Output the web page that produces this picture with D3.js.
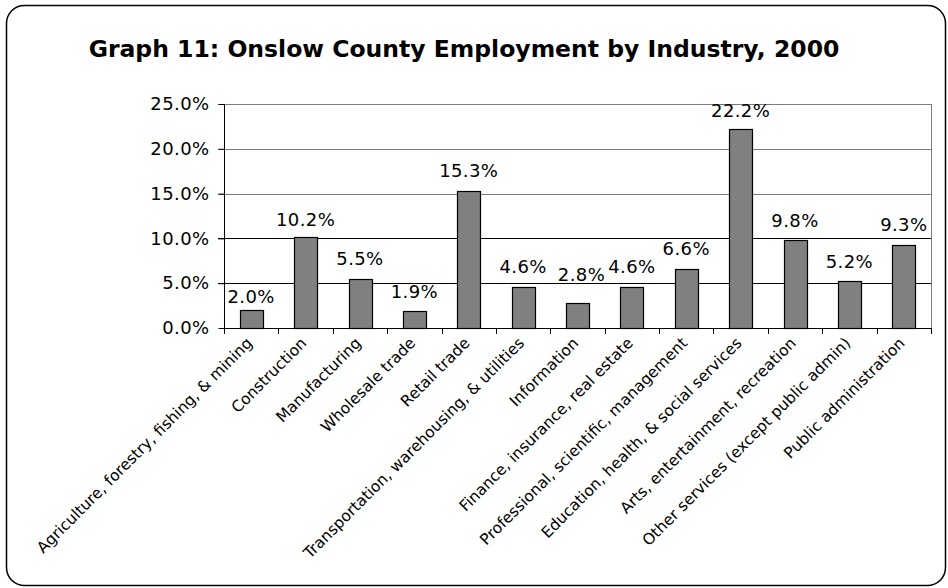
<!DOCTYPE html>
<html>
<head>
<meta charset="utf-8">
<script src="https://cdn.jsdelivr.net/npm/d3@7"></script>
<style>
  body { margin: 0; background: #fff; }
  text { font-family: "DejaVu Sans", Verdana, sans-serif; fill: #000; }
</style>
</head>
<body>
<svg id="chart" width="948" height="588"></svg>
<script>
// data
const industries = [
    "Agriculture, forestry, fishing, & mining",
    "Construction",
    "Manufacturing",
    "Wholesale trade",
    "Retail trade",
    "Transportation, warehousing, & utilities",
    "Information",
    "Finance, insurance, real estate",
    "Professional, scientific, management",
    "Education, health, & social services",
    "Arts, entertainment, recreation",
    "Other services (except public admin)",
    "Public administration"
];
const shares = [2.0, 10.2, 5.5, 1.9, 15.3, 4.6, 2.8, 4.6, 6.6, 22.2, 9.8, 5.2, 9.3];
const yTicks = [0, 5, 10, 15, 20, 25];
const title = "Graph 11: Onslow County Employment by Industry, 2000";

const svg = d3.select("#chart");
const margin = { left: 224, right: 17, top: 104, bottom: 260 };
const width = 948, height = 588;

// outer frame
svg.append("rect")
    .attr("x", 6.5).attr("y", 5.5)
    .attr("width", 939).attr("height", 580)
    .attr("rx", 18).attr("ry", 18)
    .attr("fill", "#fff")
    .attr("stroke", "#000")
    .attr("stroke-width", 1.5);

svg.append("text")
    .attr("x", 464).attr("y", 57)
    .attr("text-anchor", "middle")
    .attr("font-size", 23.5)
    .attr("font-weight", "bold")
    .text(title);

let x = d3.scaleBand()
    .domain(industries)
    .range([margin.left, width - margin.right])
    .paddingInner(0.58)
    .paddingOuter(0.29);

let y = d3.scaleLinear()
    .domain([0, 25])
    .range([height - margin.bottom, margin.top]);

// gridlines
svg.append("g")
    .selectAll("line")
    .data(yTicks.filter(d => d > 0))
    .join("line")
    .attr("x1", margin.left - 6)
    .attr("x2", width - margin.right)
    .attr("y1", d => Math.round(y(d)) + 0.5)
    .attr("y2", d => Math.round(y(d)) + 0.5)
    .attr("stroke", d => d >= 15 ? "#7a7a7a" : "#000");

// right edge of plot area
svg.append("line")
    .attr("x1", width - margin.right + 0.5).attr("x2", width - margin.right + 0.5)
    .attr("y1", y(25)).attr("y2", y(0))
    .attr("stroke", "#7a7a7a");

// bars
svg.append("g")
    .selectAll("rect")
    .data(shares)
    .join("rect")
    .attr("x", (d, i) => Math.round(x(industries[i])) + 0.5)
    .attr("y", d => Math.round(y(d)) + 0.5)
    .attr("width", Math.round(x.bandwidth()))
    .attr("height", d => Math.round(y(0)) - Math.round(y(d)))
    .attr("fill", "#808080")
    .attr("stroke", "#000")
    .attr("stroke-width", 1.2);

// value labels -- excel placed a few of them a bit off, copy that
let lift = i => ({ 0: 7, 1: 11, 3: 12.5, 6: 22, 9: 12 })[i] || 13.5;
svg.append("g")
    .selectAll("text")
    .data(shares)
    .join("text")
    .attr("x", (d, i) => x(industries[i]) + x.bandwidth() / 2 + (i === 6 ? 4 : 0))
    .attr("y", (d, i) => y(d) - lift(i))
    .attr("text-anchor", "middle")
    .attr("font-size", 18)
    .attr("letter-spacing", 0.4)
    .text(d => d.toFixed(1) + "%");

// y axis
let yAxis = d3.axisLeft(y)
    .tickValues(yTicks)
    .tickFormat(d => d.toFixed(1) + "%")
    .tickSize(6)
    .tickPadding(9);

let gy = svg.append("g")
    .attr("transform", `translate(${margin.left + 0.5},0)`)
    .call(yAxis);
gy.select(".domain").attr("stroke", "#000").attr("d", `M0,${y(25)}V${y(0) + 0.5}`);
gy.selectAll(".tick line").attr("stroke", "#000");
gy.selectAll(".tick text")
    .attr("font-size", 18)
    .attr("letter-spacing", 0.4)
    .attr("font-family", "DejaVu Sans, Verdana, sans-serif")
    .attr("fill", "#000");

// x axis: ticks at band boundaries
let boundaries = d3.range(industries.length + 1)
    .map(i => margin.left + i * (width - margin.right - margin.left) / industries.length);

let gx = svg.append("g");
gx.append("line")
    .attr("x1", margin.left).attr("x2", width - margin.right + 1)
    .attr("y1", Math.round(y(0)) + 0.5).attr("y2", Math.round(y(0)) + 0.5)
    .attr("stroke", "#000");
gx.selectAll("line.tk")
    .data(boundaries)
    .join("line")
    .attr("class", "tk")
    .attr("x1", d => Math.round(d) + 0.5).attr("x2", d => Math.round(d) + 0.5)
    .attr("y1", Math.round(y(0))).attr("y2", Math.round(y(0)) + 6)
    .attr("stroke", "#000");

gx.selectAll("text")
    .data(industries)
    .join("text")
    .attr("transform", d => `translate(${x(d) + x.bandwidth() / 2 + 2},${y(0) + 16}) rotate(-45)`)
    .attr("text-anchor", "end")
    .attr("font-size", 15.5)
    .text(d => d);
</script>
</body>
</html>
